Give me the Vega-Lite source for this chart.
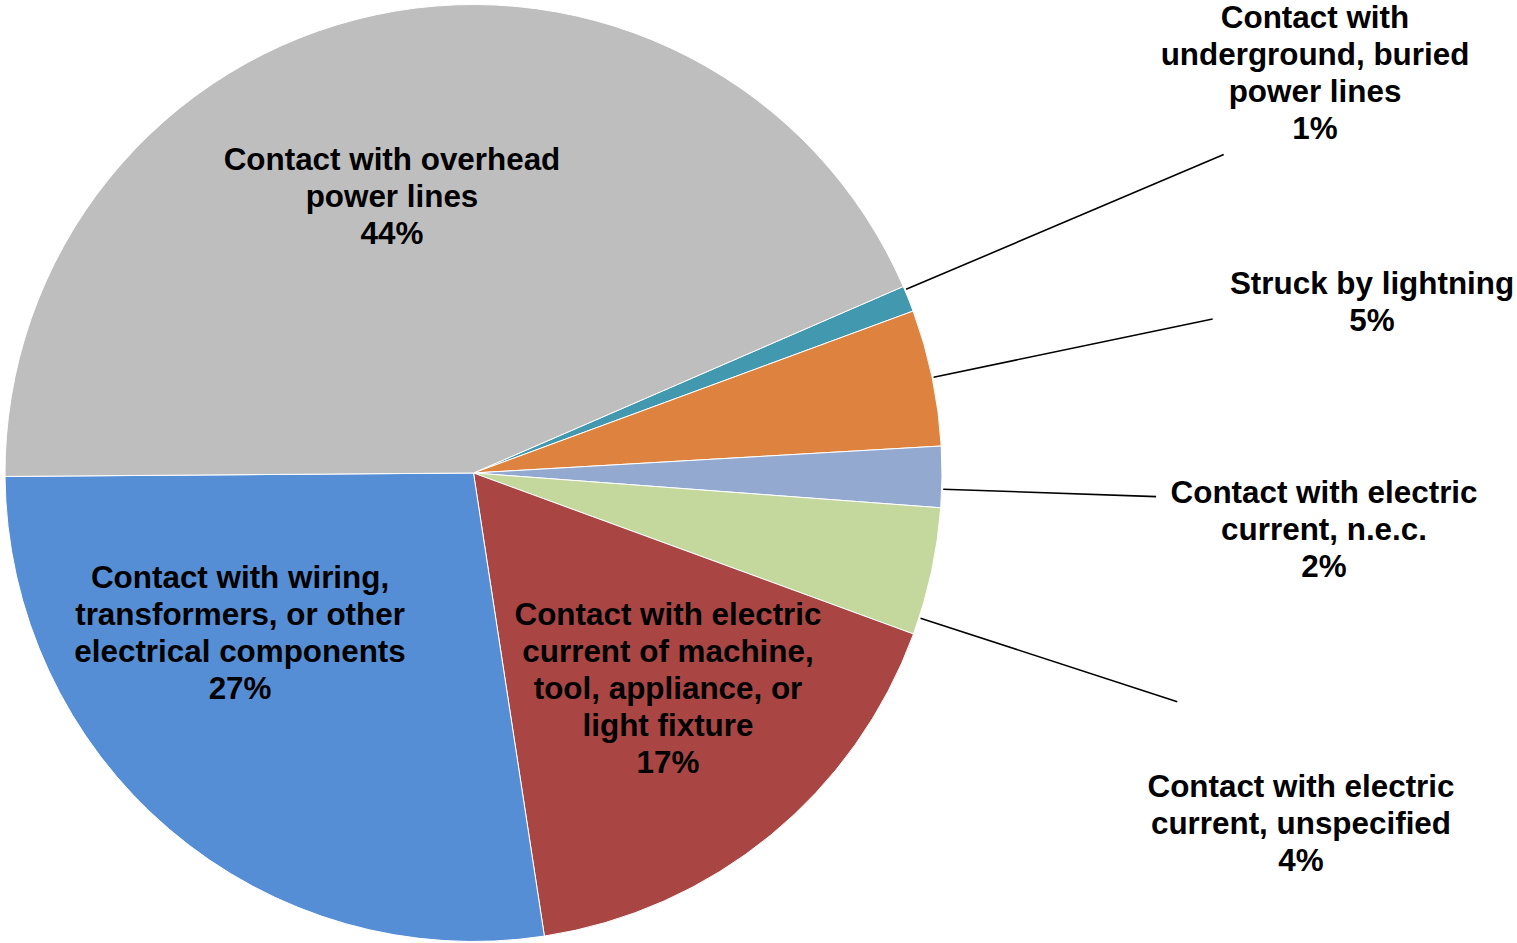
{
  "$schema": "https://vega.github.io/schema/vega-lite/v6.json",
  "width": 947,
  "height": 946,
  "padding": 0,
  "autosize": {"type": "pad"},
  "background": "white",
  "config": {"view": {"stroke": null}},
  "data": {
    "values": [
      {"n": 1, "cause": "Contact with underground, buried power lines", "value": 0.9, "label": "Contact with\nunderground, buried\npower lines\n1%"},
      {"n": 2, "cause": "Struck by lightning", "value": 4.7, "label": "Struck by lightning\n5%"},
      {"n": 3, "cause": "Contact with electric current, n.e.c.", "value": 2.1, "label": "Contact with electric\ncurrent, n.e.c.\n2%"},
      {"n": 4, "cause": "Contact with electric current, unspecified", "value": 4.4, "label": "Contact with electric\ncurrent, unspecified\n4%"},
      {"n": 5, "cause": "Contact with electric current of machine, tool, appliance, or light fixture", "value": 17.0, "label": "Contact with electric\ncurrent of machine,\ntool, appliance, or\nlight fixture\n17%"},
      {"n": 6, "cause": "Contact with wiring, transformers, or other electrical components", "value": 27.3, "label": "Contact with wiring,\ntransformers, or other\nelectrical components\n27%"},
      {"n": 7, "cause": "Contact with overhead power lines", "value": 43.6, "label": "Contact with overhead\npower lines\n44%"}
    ]
  },
  "transform": [
    {"stack": "value", "groupby": [], "sort": [{"field": "n", "order": "ascending"}], "as": ["v0", "v1"]}
  ],
  "layer": [
    {
      "mark": {"type": "arc", "radius": 468.5, "stroke": "white", "strokeWidth": 1},
      "encoding": {
        "theta": {"field": "v0", "type": "quantitative", "scale": {"type": "linear", "domain": [0, 100], "range": [1.1613, 7.4445]}},
        "theta2": {"field": "v1"},
        "color": {
          "field": "cause", "type": "nominal", "legend": null,
          "scale": {
            "domain": ["Contact with underground, buried power lines", "Struck by lightning", "Contact with electric current, n.e.c.", "Contact with electric current, unspecified", "Contact with electric current of machine, tool, appliance, or light fixture", "Contact with wiring, transformers, or other electrical components", "Contact with overhead power lines"],
            "range": ["#4298AF", "#DD833F", "#94A9D0", "#C4D79D", "#A94644", "#568ED5", "#BEBEBE"]
          }
        }
      }
    },
    {
      "transform": [{"filter": "datum.n === 1"}],
      "mark": {"type": "arc", "radius": 815, "radius2": 470, "padAngle": 3.14, "thetaOffset": -0.0202, "theta2Offset": -0.0202, "stroke": "black", "strokeWidth": 1.6, "fillOpacity": 0},
      "encoding": {"theta": {"field": "v0", "type": "quantitative"}, "theta2": {"field": "v1"}}
    },
    {
      "transform": [{"filter": "datum.n === 2"}],
      "mark": {"type": "arc", "radius": 755, "radius2": 470, "padAngle": 3.14, "stroke": "black", "strokeWidth": 1.6, "fillOpacity": 0},
      "encoding": {"theta": {"field": "v0", "type": "quantitative"}, "theta2": {"field": "v1"}}
    },
    {
      "transform": [{"filter": "datum.n === 3"}],
      "mark": {"type": "arc", "radius": 683, "radius2": 470, "padAngle": 3.14, "thetaOffset": 0.0262, "theta2Offset": 0.0262, "stroke": "black", "strokeWidth": 1.6, "fillOpacity": 0},
      "encoding": {"theta": {"field": "v0", "type": "quantitative"}, "theta2": {"field": "v1"}}
    },
    {
      "transform": [{"filter": "datum.n === 4"}],
      "mark": {"type": "arc", "radius": 740, "radius2": 470, "padAngle": 3.14, "thetaOffset": 0.1016, "theta2Offset": 0.1016, "stroke": "black", "strokeWidth": 1.6, "fillOpacity": 0},
      "encoding": {"theta": {"field": "v0", "type": "quantitative"}, "theta2": {"field": "v1"}}
    },
    {
      "transform": [{"filter": "datum.n === 1"}],
      "mark": {"type": "text", "font": "Liberation Sans", "fontWeight": "bold", "fontSize": 31.4, "lineHeight": 37, "lineBreak": "\n", "align": "center", "baseline": "middle", "color": "black", "radius": 956.4, "thetaOffset": -0.0857},
      "encoding": {"theta": {"field": "v0", "type": "quantitative"}, "text": {"field": "label"}}
    },
    {
      "transform": [{"filter": "datum.n === 2"}],
      "mark": {"type": "text", "font": "Liberation Sans", "fontWeight": "bold", "fontSize": 31.4, "lineHeight": 37, "lineBreak": "\n", "align": "center", "baseline": "middle", "color": "black", "radius": 918, "thetaOffset": 0.1466},
      "encoding": {"theta": {"field": "v0", "type": "quantitative"}, "text": {"field": "label"}}
    },
    {
      "transform": [{"filter": "datum.n === 3"}],
      "mark": {"type": "text", "font": "Liberation Sans", "fontWeight": "bold", "fontSize": 31.4, "lineHeight": 37, "lineBreak": "\n", "align": "center", "baseline": "middle", "color": "black", "radius": 850.8, "thetaOffset": 0.0822},
      "encoding": {"theta": {"field": "v0", "type": "quantitative"}, "text": {"field": "label"}}
    },
    {
      "transform": [{"filter": "datum.n === 4"}],
      "mark": {"type": "text", "font": "Liberation Sans", "fontWeight": "bold", "fontSize": 31.4, "lineHeight": 37, "lineBreak": "\n", "align": "center", "baseline": "middle", "color": "black", "radius": 885.4, "thetaOffset": 0.2894},
      "encoding": {"theta": {"field": "v0", "type": "quantitative"}, "text": {"field": "label"}}
    },
    {
      "transform": [{"filter": "datum.n === 5"}],
      "mark": {"type": "text", "font": "Liberation Sans", "fontWeight": "bold", "fontSize": 31.4, "lineHeight": 37, "lineBreak": "\n", "align": "center", "baseline": "middle", "color": "black", "radius": 241.4, "thetaOffset": 0.2831},
      "encoding": {"theta": {"field": "v0", "type": "quantitative"}, "text": {"field": "label"}}
    },
    {
      "transform": [{"filter": "datum.n === 6"}],
      "mark": {"type": "text", "font": "Liberation Sans", "fontWeight": "bold", "fontSize": 31.4, "lineHeight": 37, "lineBreak": "\n", "align": "center", "baseline": "middle", "color": "black", "radius": 256.4, "thetaOffset": 1.2964},
      "encoding": {"theta": {"field": "v0", "type": "quantitative"}, "text": {"field": "label"}}
    },
    {
      "transform": [{"filter": "datum.n === 7"}],
      "mark": {"type": "text", "font": "Liberation Sans", "fontWeight": "bold", "fontSize": 31.4, "lineHeight": 37, "lineBreak": "\n", "align": "center", "baseline": "middle", "color": "black", "radius": 322.5, "thetaOffset": 1.3226},
      "encoding": {"theta": {"field": "v0", "type": "quantitative"}, "text": {"field": "label"}}
    }
  ]
}
